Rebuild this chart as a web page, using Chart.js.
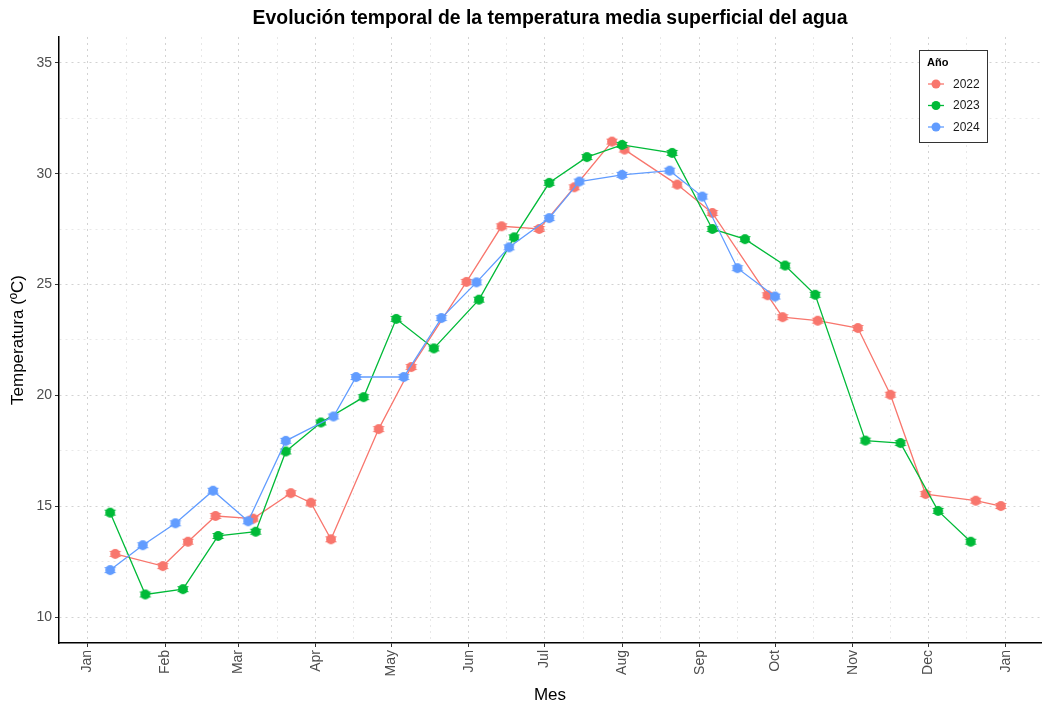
<!DOCTYPE html>
<html>
<head>
<meta charset="utf-8">
<script src="https://cdn.jsdelivr.net/npm/chart.js@4.4.0/dist/chart.umd.min.js"></script>
<style>
  html, body { margin: 0; padding: 0; background: #ffffff; }
</style>
</head>
<body>
<canvas id="temp" width="1043" height="706"></canvas>
<script>
// Sampling dates (month-day) and mean surface water temperature (ºC) per year
const years = ['2022', '2023', '2024'];
const colors = ['#F8766D', '#00BA38', '#619CFF'];

const dates2022 = ['01-12', '01-31', '02-10', '02-21', '03-07', '03-22', '03-30', '04-07', '04-26', '05-09',
    '05-31', '06-14', '06-29', '07-13', '07-28', '08-02', '08-23', '09-06', '09-28', '10-04',
    '10-18', '11-03', '11-16', '11-30', '12-20', '12-30'];
const temps2022 = [12.85, 12.30, 13.40, 14.56, 14.44, 15.59, 15.16, 13.51, 18.48, 21.28,
    25.12, 27.63, 27.51, 29.39, 31.45, 31.09, 29.51, 28.23, 24.52, 23.53,
    23.37, 23.04, 20.03, 15.55, 15.25, 15.01];

const dates2023 = ['01-10', '01-24', '02-08', '02-22', '03-08', '03-20', '04-03', '04-20', '05-03', '05-18',
    '06-05', '06-19', '07-03', '07-18', '08-01', '08-21', '09-06', '09-19', '10-05', '10-17',
    '11-06', '11-20', '12-05', '12-18'];
const temps2023 = [14.71, 11.02, 11.26, 13.66, 13.85, 17.47, 18.78, 19.92, 23.45, 22.12,
    24.32, 27.13, 29.59, 30.75, 31.30, 30.94, 27.51, 27.05, 25.86, 24.54,
    17.96, 17.85, 14.79, 13.40];

const dates2024 = ['01-10', '01-23', '02-05', '02-20', '03-05', '03-20', '04-08', '04-17', '05-06', '05-21',
    '06-04', '06-17', '07-03', '07-15', '08-01', '08-20', '09-02', '09-16', '10-01'];
const temps2024 = [12.12, 13.24, 14.23, 15.70, 14.32, 17.95, 19.05, 20.83, 20.83, 23.49,
    25.10, 26.68, 28.00, 29.65, 29.95, 30.14, 28.97, 25.74, 24.46];

const monthLabels = ['Jan', 'Feb', 'Mar', 'Apr', 'May', 'Jun', 'Jul', 'Aug', 'Sep', 'Oct', 'Nov', 'Dec', 'Jan'];
const yBreaks = [10, 15, 20, 25, 30, 35];

// x axis runs over one (leap) calendar year, measured in days from 1 Jan
const dayOf = (md) => {
    const [m, d] = md.split('-').map(Number);
    return (Date.UTC(2024, m - 1, d) - Date.UTC(2024, 0, 1)) / 86400000;
};
const monthStarts = monthLabels.map((_, i) => (Date.UTC(2024, i, 1) - Date.UTC(2024, 0, 1)) / 86400000);

const xTicks = [];
monthStarts.forEach((v, i) => {
    xTicks.push({value: v, main: true, label: monthLabels[i]});
    if (i < monthStarts.length - 1) xTicks.push({value: (v + monthStarts[i + 1]) / 2, main: false, label: ''});
});
const yTicks = [];
yBreaks.forEach((v, i) => {
    yTicks.push({value: v, main: true, label: String(v)});
    if (i < yBreaks.length - 1) yTicks.push({value: v + 2.5, main: false, label: ''});
});

// filled circle with a short error bar, used as point image
function makeMarker(color) {
    const c = document.createElement('canvas');
    c.width = 14;
    c.height = 12;
    const g = c.getContext('2d');
    g.fillStyle = color;
    g.strokeStyle = color;
    g.lineWidth = 1.1;
    g.beginPath();
    g.moveTo(1.5, 3.5); g.lineTo(12.5, 3.5);
    g.moveTo(1.5, 8.5); g.lineTo(12.5, 8.5);
    g.stroke();
    g.beginPath();
    g.arc(7, 6, 4.9, 0, Math.PI * 2);
    g.fill();
    return c;
}

const series = [[dates2022, temps2022], [dates2023, temps2023], [dates2024, temps2024]];
const datasets = series.map(([dates, temps], i) => ({
    label: years[i],
    data: dates.map((d, j) => ({x: dayOf(d), y: temps[j]})),
    borderColor: colors[i],
    backgroundColor: colors[i],
    borderWidth: 1.3,
    pointStyle: makeMarker(colors[i]),
    pointRadius: 5,
    tension: 0,
    order: 2 - i
}));

const legendBox = {
    id: 'legendBox',
    afterDraw(chart) {
        const ctx = chart.ctx;
        const left = 919, top = 50;
        ctx.save();
        ctx.fillStyle = '#ffffff';
        ctx.fillRect(left, top, 68, 92);
        ctx.strokeStyle = '#333333';
        ctx.lineWidth = 1;
        ctx.strokeRect(left + 0.5, top + 0.5, 68, 92);
        ctx.fillStyle = '#000000';
        ctx.font = "bold 11px 'Liberation Sans', Arial, sans-serif";
        ctx.textBaseline = 'middle';
        ctx.fillText('Año', left + 8, top + 13);
        chart.data.datasets.forEach((ds, i) => {
            const y = top + 34 + i * 21.5;
            ctx.strokeStyle = ds.borderColor;
            ctx.lineWidth = 1.3;
            ctx.beginPath();
            ctx.moveTo(left + 9, y);
            ctx.lineTo(left + 25, y);
            ctx.stroke();
            ctx.fillStyle = ds.borderColor;
            ctx.beginPath();
            ctx.arc(left + 17, y, 4.5, 0, Math.PI * 2);
            ctx.fill();
            ctx.fillStyle = '#1a1a1a';
            ctx.font = "12px 'Liberation Sans', Arial, sans-serif";
            ctx.fillText(ds.label, left + 34, y + 0.5);
        });
        ctx.restore();
    }
};

const tickFont = {family: "'Liberation Sans', Arial, sans-serif", size: 14};
const titleFont = {family: "'Liberation Sans', Arial, sans-serif", size: 17};

new Chart(document.getElementById('temp'), {
    type: 'line',
    data: {datasets: datasets},
    options: {
        responsive: false,
        devicePixelRatio: 1,
        animation: false,
        layout: {autoPadding: false, padding: {top: 0, right: 2, bottom: 0, left: 0}},
        plugins: {
            legend: {display: false},
            tooltip: {enabled: false},
            title: {
                display: true,
                fullSize: false,
                text: 'Evolución temporal de la temperatura media superficial del agua',
                color: '#000000',
                font: {family: "'Liberation Sans', Arial, sans-serif", size: 19.4, weight: 'bold'},
                padding: {top: 7, bottom: 6.7}
            }
        },
        scales: {
            x: {
                type: 'linear',
                min: -11.4,
                max: 380,
                afterBuildTicks: (scale) => { scale.ticks = xTicks.map(t => ({value: t.value})); },
                afterFit: (scale) => {
                    scale.height = 63;
                    scale.paddingLeft = 0;
                    scale.paddingRight = 0;
                },
                ticks: {
                    autoSkip: false,
                    minRotation: 90,
                    maxRotation: 90,
                    padding: 3,
                    color: '#4d4d4d',
                    font: tickFont,
                    callback: (value, index) => xTicks[index].label
                },
                grid: {
                    color: (c) => xTicks[c.index] && xTicks[c.index].main ? '#d2d2d2' : '#e8e8e8',
                    lineWidth: 1,
                    tickLength: 4,
                    tickWidth: 1,
                    tickColor: (c) => xTicks[c.index] && xTicks[c.index].main ? '#333333' : 'rgba(0,0,0,0)'
                },
                border: {display: true, color: '#000000', width: 1.5, dash: [2, 4]},
                title: {
                    display: true,
                    text: 'Mes',
                    color: '#000000',
                    font: titleFont,
                    padding: {top: 0, bottom: 0}
                }
            },
            y: {
                type: 'linear',
                min: 8.83,
                max: 36.17,
                afterBuildTicks: (scale) => { scale.ticks = yTicks.map(t => ({value: t.value})); },
                afterFit: (scale) => {
                    scale.width = 59;
                    scale.paddingTop = 0;
                    scale.paddingBottom = 0;
                },
                ticks: {
                    padding: 3,
                    color: '#4d4d4d',
                    font: tickFont,
                    callback: (value, index) => yTicks[index].label
                },
                grid: {
                    color: (c) => yTicks[c.index] && yTicks[c.index].main ? '#d2d2d2' : '#e8e8e8',
                    lineWidth: 1,
                    tickLength: 4,
                    tickWidth: 1,
                    tickColor: (c) => yTicks[c.index] && yTicks[c.index].main ? '#333333' : 'rgba(0,0,0,0)'
                },
                border: {display: true, color: '#000000', width: 1.5, dash: [2, 4]},
                title: {
                    display: true,
                    text: 'Temperatura (ºC)',
                    color: '#000000',
                    font: titleFont,
                    padding: {top: 8, bottom: 0}
                }
            }
        }
    },
    plugins: [legendBox]
});
</script>
</body>
</html>
